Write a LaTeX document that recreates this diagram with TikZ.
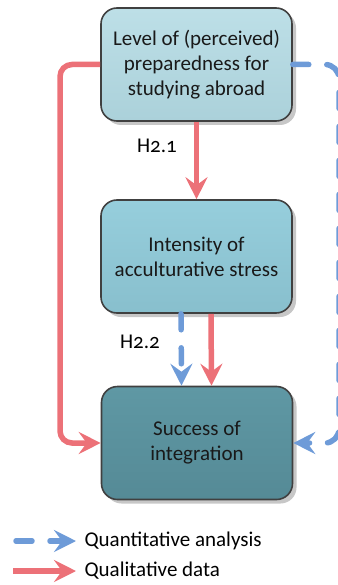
\documentclass[tikz,border=0pt]{standalone}
\usepackage{fontspec}
\setmainfont[Numbers=OldStyle]{Carlito}
\usetikzlibrary{arrows.meta,shadows}
\definecolor{qualred}{HTML}{EC7178}
\definecolor{quantblue}{HTML}{6E9BD8}
\definecolor{boxedge}{HTML}{404040}
\definecolor{prepTop}{HTML}{BDDFE7}
\definecolor{prepBot}{HTML}{ABD1DA}
\definecolor{stressTop}{HTML}{96CEDC}
\definecolor{stressBot}{HTML}{88BFCD}
\definecolor{integTop}{HTML}{5F98A4}
\definecolor{integBot}{HTML}{558A96}
\begin{document}
\begin{tikzpicture}[x=1pt,y=-1pt,
  box/.style={draw=boxedge, line width=1.6pt, rounded corners=16pt,
    minimum width=191pt, minimum height=113pt, align=center,
    font=\fontsize{21}{25}\selectfont, text=black!90,
    drop shadow={shadow xshift=4pt, shadow yshift=-4pt, fill=black, opacity=0.22}},
  tipq/.tip={Stealth[length=22pt, width=22pt, inset=8pt]},
  qual/.style={draw=qualred, line width=5.5pt, -{tipq[fill=qualred]}},
  quant/.style={draw=quantblue, line width=5.5pt, line cap=round,
    dash pattern=on 16pt off 18pt, -{tipq[fill=quantblue]}},
  hyp/.style={font=\fontsize{21}{25}\selectfont, text=black},
  legend/.style={font=\fontsize{21}{25}\selectfont, text=black, anchor=west}]
\useasboundingbox (0,0) rectangle (337,585);

% variables
\node[box, top color=prepTop, bottom color=prepBot] (b1) at (196.5,64.5)
  {Level of (perceived)\\preparedness for\\studying abroad};
\node[box, top color=stressTop, bottom color=stressBot] (b2) at (196.5,256.5)
  {Intensity of\\acculturative stress};
\node[box, top color=integTop, bottom color=integBot] (b3) at (197,443)
  {Success of\\integration};

% hypotheses
\draw[qual] (b1.south) -- (b2.north);
\node[hyp] (h21) at (157,146) {H2.1};
\draw[quant] ([xshift=-15.5pt]b2.south) -- ([xshift=-15.5pt]b3.north);
\draw[qual] ([xshift=14.5pt]b2.south) -- ([xshift=14.5pt]b3.north);
\node[hyp] (h22) at (140,342) {H2.2};

% direct paths
\draw[qual, rounded corners=12pt] (b1.west) -- (60,64.5) -- (60,443) -- (b3.west);
\draw[quant, rounded corners=14pt] (b1.east) -- (339,64.5) -- (339,443) -- (b3.east);

% legend
\coordinate (qa1) at (16,541);
\coordinate (qa2) at (76,541);
\coordinate (ql1) at (13,571);
\coordinate (ql2) at (76,571);
\draw[quant] (qa1) -- (qa2);
\node[legend] (lqa) at (81,541) {Quantitative analysis};
\draw[qual] (ql1) -- (ql2);
\node[legend] (lql) at (81,571) {Qualitative data};
\end{tikzpicture}
\end{document}
